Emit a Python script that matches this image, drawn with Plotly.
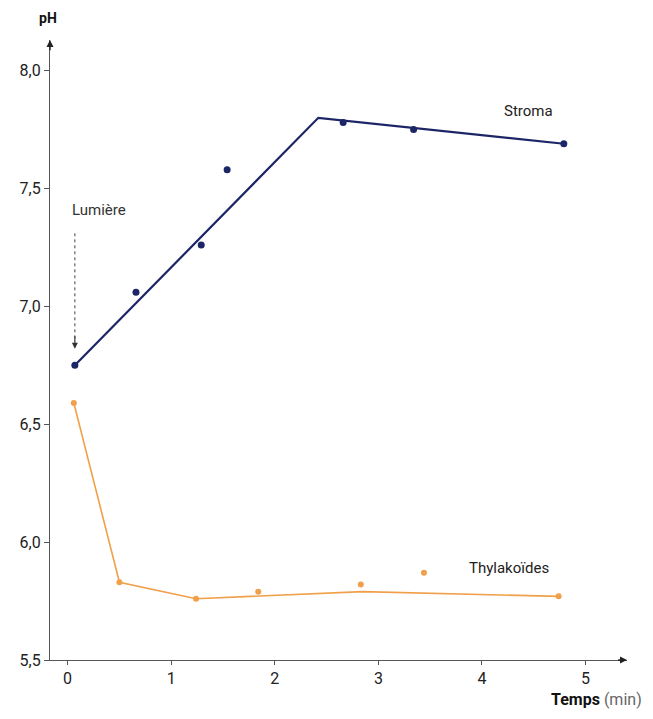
import plotly.graph_objects as go

# Measured points
stroma_t = [0.07, 0.66, 1.29, 1.54, 2.66, 3.34, 4.79]
stroma_ph = [6.75, 7.06, 7.26, 7.58, 7.78, 7.75, 7.69]
# Fitted stroma line
stroma_fit_t = [0.07, 2.42, 4.79]
stroma_fit_ph = [6.75, 7.80, 7.69]

thyl_t = [0.06, 0.50, 1.24, 1.84, 2.83, 3.44, 4.74]
thyl_ph = [6.59, 5.83, 5.76, 5.79, 5.82, 5.87, 5.77]
# Fitted thylakoid line
thyl_fit_t = [0.06, 0.50, 1.24, 2.85, 4.74]
thyl_fit_ph = [6.59, 5.83, 5.76, 5.79, 5.77]

x_ticks = [0, 1, 2, 3, 4, 5]
x_tick_labels = ["0", "1", "2", "3", "4", "5"]
y_ticks = [5.5, 6.0, 6.5, 7.0, 7.5, 8.0]
y_tick_labels = ["5,5", "6,0", "6,5", "7,0", "7,5", "8,0"]

NAVY = "#1c2566"
ORANGE = "#f0a04a"
AXIS = "#555555"
FONT = "Roboto, Arial, sans-serif"

X0, X1 = -0.17, 5.4
Y0, Y1 = 5.5, 8.13

fig = go.Figure()
fig.add_trace(go.Scatter(x=stroma_fit_t, y=stroma_fit_ph, mode="lines",
                         line=dict(color=NAVY, width=2.2), hoverinfo="skip"))
fig.add_trace(go.Scatter(x=stroma_t, y=stroma_ph, mode="markers",
                         marker=dict(color=NAVY, size=7)))
fig.add_trace(go.Scatter(x=thyl_fit_t, y=thyl_fit_ph, mode="lines",
                         line=dict(color=ORANGE, width=1.6), hoverinfo="skip"))
fig.add_trace(go.Scatter(x=thyl_t, y=thyl_ph, mode="markers",
                         marker=dict(color=ORANGE, size=6)))

# Lumière dotted arrow
fig.add_shape(type="line", x0=0.07, x1=0.07, y0=7.31, y1=6.86,
              line=dict(color="#444444", width=1, dash="dot"))
fig.add_annotation(x=0.07, y=6.82, ax=0.07, ay=6.88, xref="x", yref="y",
                   axref="x", ayref="y", showarrow=True, arrowhead=2,
                   arrowsize=1, arrowwidth=1.2, arrowcolor="#333333", text="")
fig.add_annotation(x=0.30, y=7.41, xref="x", yref="y", text="Lumière",
                   showarrow=False, font=dict(family=FONT, size=15, color="#333333"))

# Series labels
fig.add_annotation(x=4.45, y=7.83, xref="x", yref="y", text="Stroma",
                   showarrow=False, font=dict(family=FONT, size=15, color="#222222"))
fig.add_annotation(x=4.26, y=5.89, xref="x", yref="y", text="Thylakoïdes",
                   showarrow=False, font=dict(family=FONT, size=15, color="#222222"))

# Axis arrow heads
fig.add_annotation(x=X1, y=Y0, ax=X1 - 0.1, ay=Y0, xref="x", yref="y",
                   axref="x", ayref="y", showarrow=True, arrowhead=2,
                   arrowsize=1, arrowwidth=1.4, arrowcolor="#222222", text="")
fig.add_annotation(x=X0, y=Y1, ax=X0, ay=Y1 - 0.05, xref="x", yref="y",
                   axref="x", ayref="y", showarrow=True, arrowhead=2,
                   arrowsize=1, arrowwidth=1.4, arrowcolor="#222222", text="")

# Axis titles
fig.add_annotation(x=-0.003, y=1.035, xref="paper", yref="paper", xanchor="center",
                   yanchor="middle", text="<b>pH</b>", showarrow=False,
                   font=dict(family=FONT, size=14, color="#111111"))
fig.add_annotation(x=1.03, y=-0.0645, xref="paper", yref="paper", xanchor="right",
                   yanchor="middle",
                   text="<b>Temps</b> <span style='color:#666666'>(min)</span>",
                   showarrow=False, font=dict(family=FONT, size=16, color="#111111"))

fig.update_layout(
    width=645, height=711,
    margin=dict(l=42, r=26, t=32, b=59),
    paper_bgcolor="white", plot_bgcolor="white",
    showlegend=False,
    xaxis=dict(range=[X0, X1], tickvals=x_ticks, ticktext=x_tick_labels,
               showgrid=False, zeroline=False, showline=True, linecolor=AXIS,
               linewidth=1.3, ticks="outside", ticklen=4, tickcolor=AXIS,
               tickfont=dict(family=FONT, size=16, color="#222222")),
    yaxis=dict(range=[Y0, Y1], tickvals=y_ticks, ticktext=y_tick_labels,
               showgrid=False, zeroline=False, showline=True, linecolor=AXIS,
               linewidth=1.3, ticks="outside", ticklen=5, tickcolor=AXIS,
               tickfont=dict(family=FONT, size=16, color="#222222")),
)

fig.write_html("out.html")
